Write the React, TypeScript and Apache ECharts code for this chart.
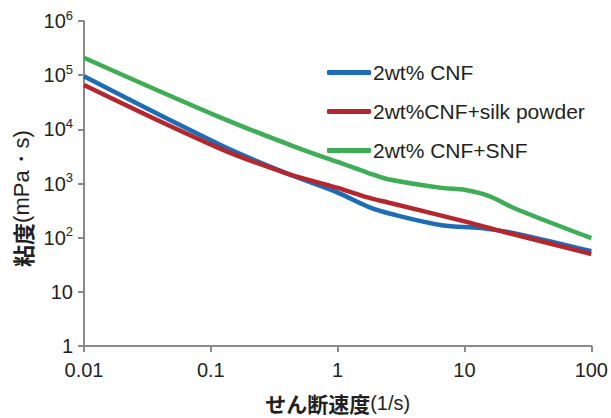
import React, { useEffect, useRef } from "react";
import * as echarts from "echarts";

const seriesNames = ["2wt% CNF", "2wt%CNF+silk powder", "2wt% CNF+SNF"];
const colors = ["#1d6db6", "#b5262d", "#3dae55"];

const blueData: [number, number][] = [
  [0.01, 95000], [0.116, 5300], [0.39, 1560], [1, 680], [1.75, 370], [2.7, 270],
  [6.6, 170], [13.6, 150], [25, 120], [100, 56],
];
const redData: [number, number][] = [
  [0.01, 66000], [0.116, 4500], [0.39, 1560], [1, 830], [1.75, 548], [2.5, 445],
  [10, 200], [21, 126], [100, 50],
];
const greenData: [number, number][] = [
  [0.01, 210000], [0.116, 17000], [0.49, 4500], [1, 2500], [1.75, 1560], [2.5, 1200],
  [6.6, 830], [10.2, 760], [15.5, 590], [25, 345], [100, 98],
];

const xTicks = ["0.01", "0.1", "1", "10", "100"];

const FONT = "'Liberation Sans', Arial, sans-serif";
const JP = "'Noto Sans CJK JP', sans-serif";

export default function App() {
  const ref = useRef<HTMLDivElement>(null);
  useEffect(() => {
    if (!ref.current) return;
    const chart = echarts.init(ref.current, undefined, { renderer: "svg" });
    const axisColor = "#8a8a8c";
    const datas = [blueData, redData, greenData];
    chart.setOption({
      animation: false,
      textStyle: { fontFamily: FONT },
      grid: { left: 84, right: 18, top: 21, bottom: 65 },
      legend: {
        orient: "vertical",
        left: 327,
        top: 62,
        padding: 0,
        icon: "roundRect",
        itemWidth: 44,
        itemHeight: 5,
        itemGap: 18,
        textStyle: { fontSize: 21, color: "#231f20", fontFamily: FONT, lineHeight: 20, padding: [0, 0, 0, -3] },
        data: seriesNames,
      },
      xAxis: {
        type: "log",
        logBase: 10,
        min: 0.01,
        max: 100,
        name: "{b|せん断速度}{n|(1/s)}",
        nameLocation: "middle",
        nameGap: 46,
        nameTextStyle: {
          rich: {
            b: { fontSize: 21, fontWeight: "bold", color: "#231f20", fontFamily: JP },
            n: { fontSize: 20, color: "#231f20", fontFamily: FONT },
          },
        },
        axisLine: { lineStyle: { color: axisColor, width: 2 } },
        axisTick: { show: true, length: 6, lineStyle: { color: axisColor, width: 2 } },
        minorTick: { show: false },
        splitLine: { show: false },
        axisLabel: {
          fontSize: 20,
          color: "#231f20",
          margin: 14,
          formatter: (v: number) => xTicks[Math.round(Math.log10(v)) + 2] ?? String(v),
        },
      },
      yAxis: {
        type: "log",
        logBase: 10,
        min: 1,
        max: 1000000,
        name: "{b|粘度}{n|(mPa・s)}",
        nameLocation: "middle",
        nameGap: 51,
        nameRotate: 90,
        nameTextStyle: {
          padding: [0, 30, 0, 0],
          rich: {
            b: { fontSize: 22, fontWeight: "bold", color: "#231f20", fontFamily: JP },
            n: { fontSize: 22, color: "#231f20", fontFamily: FONT },
          },
        },
        axisLine: { show: true, lineStyle: { color: axisColor, width: 2 } },
        axisTick: { show: true, length: 6, lineStyle: { color: axisColor, width: 2 } },
        splitLine: { show: false },
        axisLabel: {
          fontSize: 20,
          color: "#231f20",
          margin: 11,
          formatter: (v: number) => {
            const e = Math.round(Math.log10(v));
            if (e === 0) return "1";
            if (e === 1) return "10";
            return "10{sup|" + e + "}";
          },
          rich: {
            sup: { fontSize: 13, verticalAlign: "top", padding: [0, 0, 12, 0], color: "#231f20" },
          },
        },
      },
      series: seriesNames.map((name, i) => ({
        name,
        type: "line",
        data: datas[i],
        smooth: 0.35,
        showSymbol: false,
        symbol: "none",
        lineStyle: { color: colors[i], width: 4.5 },
        itemStyle: { color: colors[i] },
      })),
    });
    return () => chart.dispose();
  }, []);
  return <div ref={ref} style={{ width: 611, height: 418, position: "absolute", left: 0, top: 0 }} />;
}
